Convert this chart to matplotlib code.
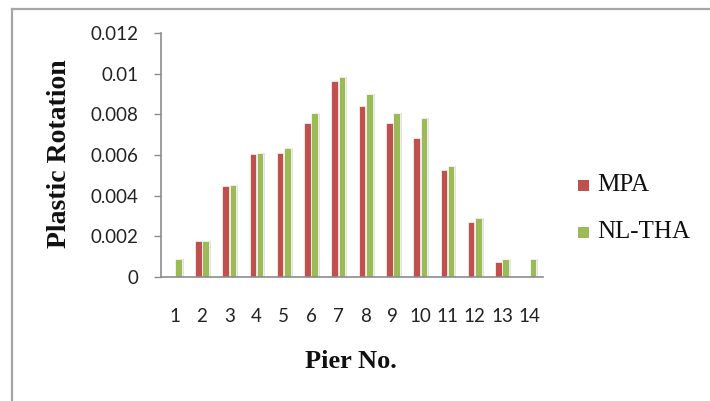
import matplotlib
matplotlib.use("Agg")
import matplotlib.pyplot as plt
import numpy as np
from matplotlib.lines import Line2D
from matplotlib.patches import Rectangle

piers = ["1", "2", "3", "4", "5", "6", "7", "8", "9", "10", "11", "12", "13", "14"]
mpa = [0.0, 0.00176, 0.00448, 0.00605, 0.00611, 0.00756, 0.00964, 0.00843,
       0.00756, 0.00684, 0.00526, 0.00269, 0.00074, 0.0]
nltha = [0.00087, 0.00176, 0.00454, 0.00611, 0.00633, 0.00805, 0.00985, 0.00898,
         0.00805, 0.00784, 0.00548, 0.00289, 0.00087, 0.00087]
yticks = [0, 0.002, 0.004, 0.006, 0.008, 0.01, 0.012]
ytick_labels = ["0", "0.002", "0.004", "0.006", "0.008", "0.01", "0.012"]

RED = "#C0504D"
GREEN = "#9BBB59"

W, H = 710, 401
fig = plt.figure(figsize=(W / 100, H / 100), dpi=100)
fig.patch.set_facecolor("white")

# outer frame (left and top edges visible)
fig.add_artist(Line2D([12 / W, 12 / W], [0, 1 - 9 / H], transform=fig.transFigure,
                      color="#a6a6a6", lw=1.6))
fig.add_artist(Line2D([12 / W, 1], [1 - 9 / H, 1 - 9 / H], transform=fig.transFigure,
                      color="#a6a6a6", lw=1.6))

left, right = 161 / W, 543 / W
bottom, top = 1 - 277 / H, 1 - 33 / H
ax = fig.add_axes([left, bottom, right - left, top - bottom])

x = np.arange(1, len(piers) + 1)
bw = 0.24
off = 0.135
sh = 0.07
# soft shadows
ax.bar(x - off + sh, mpa, width=bw, color="#d0d0d0", alpha=0.6, zorder=1, linewidth=0)
ax.bar(x + off + sh, nltha, width=bw, color="#d0d0d0", alpha=0.6, zorder=1, linewidth=0)
ax.bar(x - off, mpa, width=bw, color=RED, edgecolor="white", linewidth=0.5, zorder=2,
       label="MPA")
ax.bar(x + off, nltha, width=bw, color=GREEN, edgecolor="white", linewidth=0.5, zorder=2,
       label="NL-THA")

ax.set_xlim(0.5, 14.5)
ax.set_ylim(0, 0.012)
ax.set_yticks(yticks)
ax.set_yticklabels(ytick_labels)
ax.set_xticks(x)
ax.set_xticklabels(piers)

for s in ["top", "right"]:
    ax.spines[s].set_visible(False)
ax.spines["left"].set_color("#8c8c8c")
ax.spines["bottom"].set_color("#8c8c8c")
ax.spines["left"].set_linewidth(1.2)
ax.spines["bottom"].set_linewidth(1.2)

ax.tick_params(axis="y", direction="out", length=5, width=1, color="#8c8c8c",
               pad=11, labelsize=13.5, labelcolor="#222222")
ax.tick_params(axis="x", length=0, pad=22, labelsize=13.5, labelcolor="#222222")
for lab in ax.get_xticklabels() + ax.get_yticklabels():
    lab.set_family("Lato")

fig.text(60 / W, 1 - 154 / H, "Plastic Rotation", rotation=90, ha="center", va="center",
         family="Liberation Serif", fontweight="bold", fontsize=20, color="#111111")
fig.text(351 / W, 1 - 361 / H, "Pier No.", ha="center", va="center",
         family="Liberation Serif", fontweight="bold", fontsize=19, color="#111111")

# legend
for yy, col, txt in [(185, RED, "MPA"), (232, GREEN, "NL-THA")]:
    fig.add_artist(Rectangle((578 / W, 1 - (yy + 5.5) / H), 11 / W, 11 / H,
                             transform=fig.transFigure, facecolor=col, edgecolor="none"))
    fig.text(597 / W, 1 - yy / H, txt, ha="left", va="center",
             family="Liberation Serif", fontsize=18, color="#111111")

fig.savefig("out.png", dpi=100, facecolor="white")
